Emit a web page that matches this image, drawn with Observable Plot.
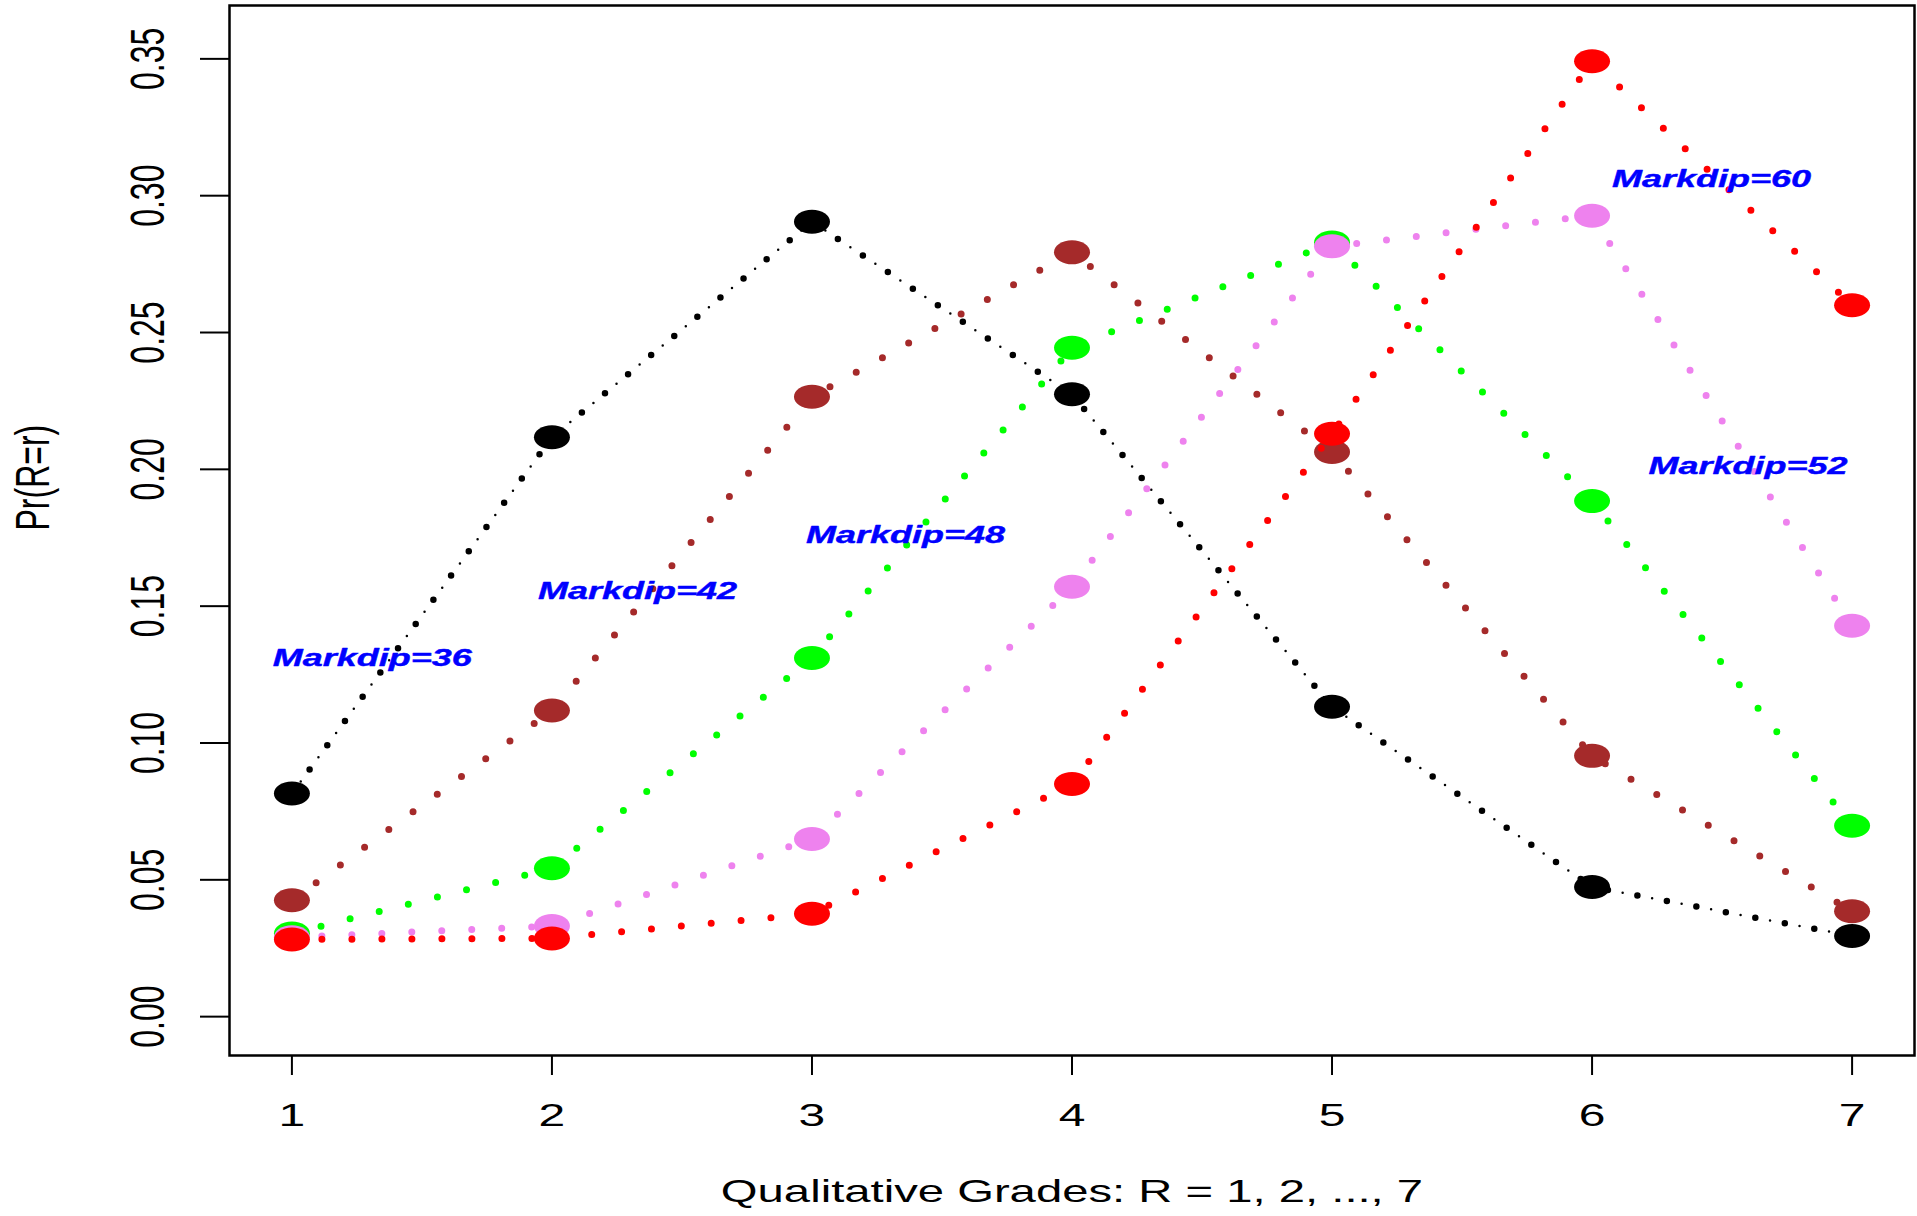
<!DOCTYPE html>
<html><head><meta charset="utf-8">
<script src="https://cdn.jsdelivr.net/npm/d3@7"></script>
<script src="https://cdn.jsdelivr.net/npm/@observablehq/plot@0.6"></script>
<style>
html,body{margin:0;padding:0;background:#fff;}
#chart svg{display:block;}
</style></head><body><div id="chart"></div>
<script>
// ---- data ----
const grades = [1, 2, 3, 4, 5, 6, 7];
const markdips = [36, 42, 48, 52, 60];
const seriesColors = ["black", "brown", "#00FF00", "violet", "red"];
const probs36 = [0.0815, 0.2117, 0.2905, 0.2274, 0.1132, 0.0474, 0.0295];
const probs42 = [0.0425, 0.1119, 0.2265, 0.2793, 0.2063, 0.0953, 0.0385];
const probs48 = [0.0304, 0.0542, 0.1311, 0.2444, 0.2829, 0.1884, 0.0698];
const probs52 = [0.0290, 0.0331, 0.0649, 0.1571, 0.2815, 0.2927, 0.1428];
const probs60 = [0.0282, 0.0286, 0.0376, 0.0850, 0.2130, 0.3491, 0.2600];
const labelText = ["Markdip=36", "Markdip=42", "Markdip=48", "Markdip=52", "Markdip=60"];
const labelX = [1.31, 2.33, 3.36, 6.60, 6.46];
const labelY = [0.131, 0.1555, 0.176, 0.201, 0.306];
const xTicks = [1, 2, 3, 4, 5, 6, 7];
const yTicks = [0, 0.05, 0.10, 0.15, 0.20, 0.25, 0.30, 0.35];
const xTitle = "Qualitative Grades: R = 1, 2, ..., 7";
const yTitle = "Pr(R=r)";

const allProbs = [probs36, probs42, probs48, probs52, probs60];
const series = markdips.map((m, i) => grades.map((g, j) => ({markdip: m, grade: g, p: allProbs[i][j]})));
const labels = labelText.map((t, i) => ({text: t, x: labelX[i], y: labelY[i]}));

// elliptical point symbol (reference points are horizontally stretched)
const ellipse = {
  draw(ctx) {
    const rx = 18, ry = 12, k = 0.5523;
    ctx.moveTo(rx, 0);
    ctx.bezierCurveTo(rx, ry * k, rx * k, ry, 0, ry);
    ctx.bezierCurveTo(-rx * k, ry, -rx, ry * k, -rx, 0);
    ctx.bezierCurveTo(-rx, -ry * k, -rx * k, -ry, 0, -ry);
    ctx.bezierCurveTo(rx * k, -ry, rx, -ry * k, rx, 0);
    ctx.closePath();
  }
};

const marks = [];
series.forEach((rows, i) => {
  const c = seriesColors[i];
  marks.push(Plot.line(rows, {x: "grade", y: "p", stroke: c, strokeWidth: i === 0 ? 6.5 : 7, strokeDasharray: "0 30", strokeLinecap: "round"}));
  if (i === 0) marks.push(Plot.line(rows, {x: "grade", y: "p", stroke: c, strokeWidth: 2.5, strokeDasharray: "0 30", strokeDashoffset: -15, strokeLinecap: "round"}));
  marks.push(Plot.dot(rows, {x: "grade", y: "p", fill: c, symbol: ellipse, r: 5}));
});
marks.push(Plot.text(labels, {x: "x", y: "y", text: "text", fill: "blue", stroke: "blue", strokeWidth: 0.4, fontWeight: "bold", fontStyle: "italic", fontSize: 24}));
marks.push(Plot.axisX({ticks: xTicks, tickSize: 20, tickPadding: 28, fontSize: 32, strokeWidth: 2, label: null, tickFormat: d => String(d)}));
marks.push(Plot.axisY({ticks: yTicks, tickSize: 29, tickPadding: 42, tickRotate: -90, textAnchor: "middle", lineAnchor: "bottom", fontSize: 32, strokeWidth: 2, label: null, tickFormat: d3.format(".2f")}));
marks.push(Plot.frame({stroke: "black", strokeWidth: 2.5}));
marks.push(Plot.text([xTitle], {text: d => d, frameAnchor: "bottom", dy: 146, fontSize: 31.5}));
marks.push(Plot.text([yTitle], {text: d => d, frameAnchor: "left", dx: -196, rotate: -90, fontSize: 32}));

const chart = Plot.plot({
  width: 1917,
  height: 1216,
  marginLeft: 229,
  marginRight: 3,
  marginTop: 5,
  marginBottom: 161,
  style: {fontFamily: "'Liberation Sans', Arial, sans-serif", fontSize: "32px", background: "white", color: "black"},
  x: {type: "linear", domain: [0.76, 7.24]},
  y: {type: "linear", domain: [-0.0142, 0.3695]},
  marks
});
document.getElementById("chart").appendChild(chart);

// reference text is stretched horizontally ~1.5x; reproduce that
function stretchText(svg, sx) {
  svg.querySelectorAll("text").forEach(t => {
    const bb = t.getBBox();
    const ctm = t.getCTM();
    const pctm = t.parentNode.getCTM();
    if (!ctm || !pctm) return;
    const P = new DOMPoint(bb.x + bb.width / 2, bb.y + bb.height / 2).matrixTransform(ctm);
    const S = new DOMMatrix().translate(P.x, P.y).scale(sx, 1).translate(-P.x, -P.y);
    const C = new DOMMatrix([ctm.a, ctm.b, ctm.c, ctm.d, ctm.e, ctm.f]);
    const PC = new DOMMatrix([pctm.a, pctm.b, pctm.c, pctm.d, pctm.e, pctm.f]);
    const L = PC.inverse().multiply(S).multiply(C);
    t.setAttribute("transform", `matrix(${L.a},${L.b},${L.c},${L.d},${L.e},${L.f})`);
  });
}
const svgEl = chart.tagName.toLowerCase() === "svg" ? chart : chart.querySelector("svg");
stretchText(svgEl, 1.5);
</script></body></html>
